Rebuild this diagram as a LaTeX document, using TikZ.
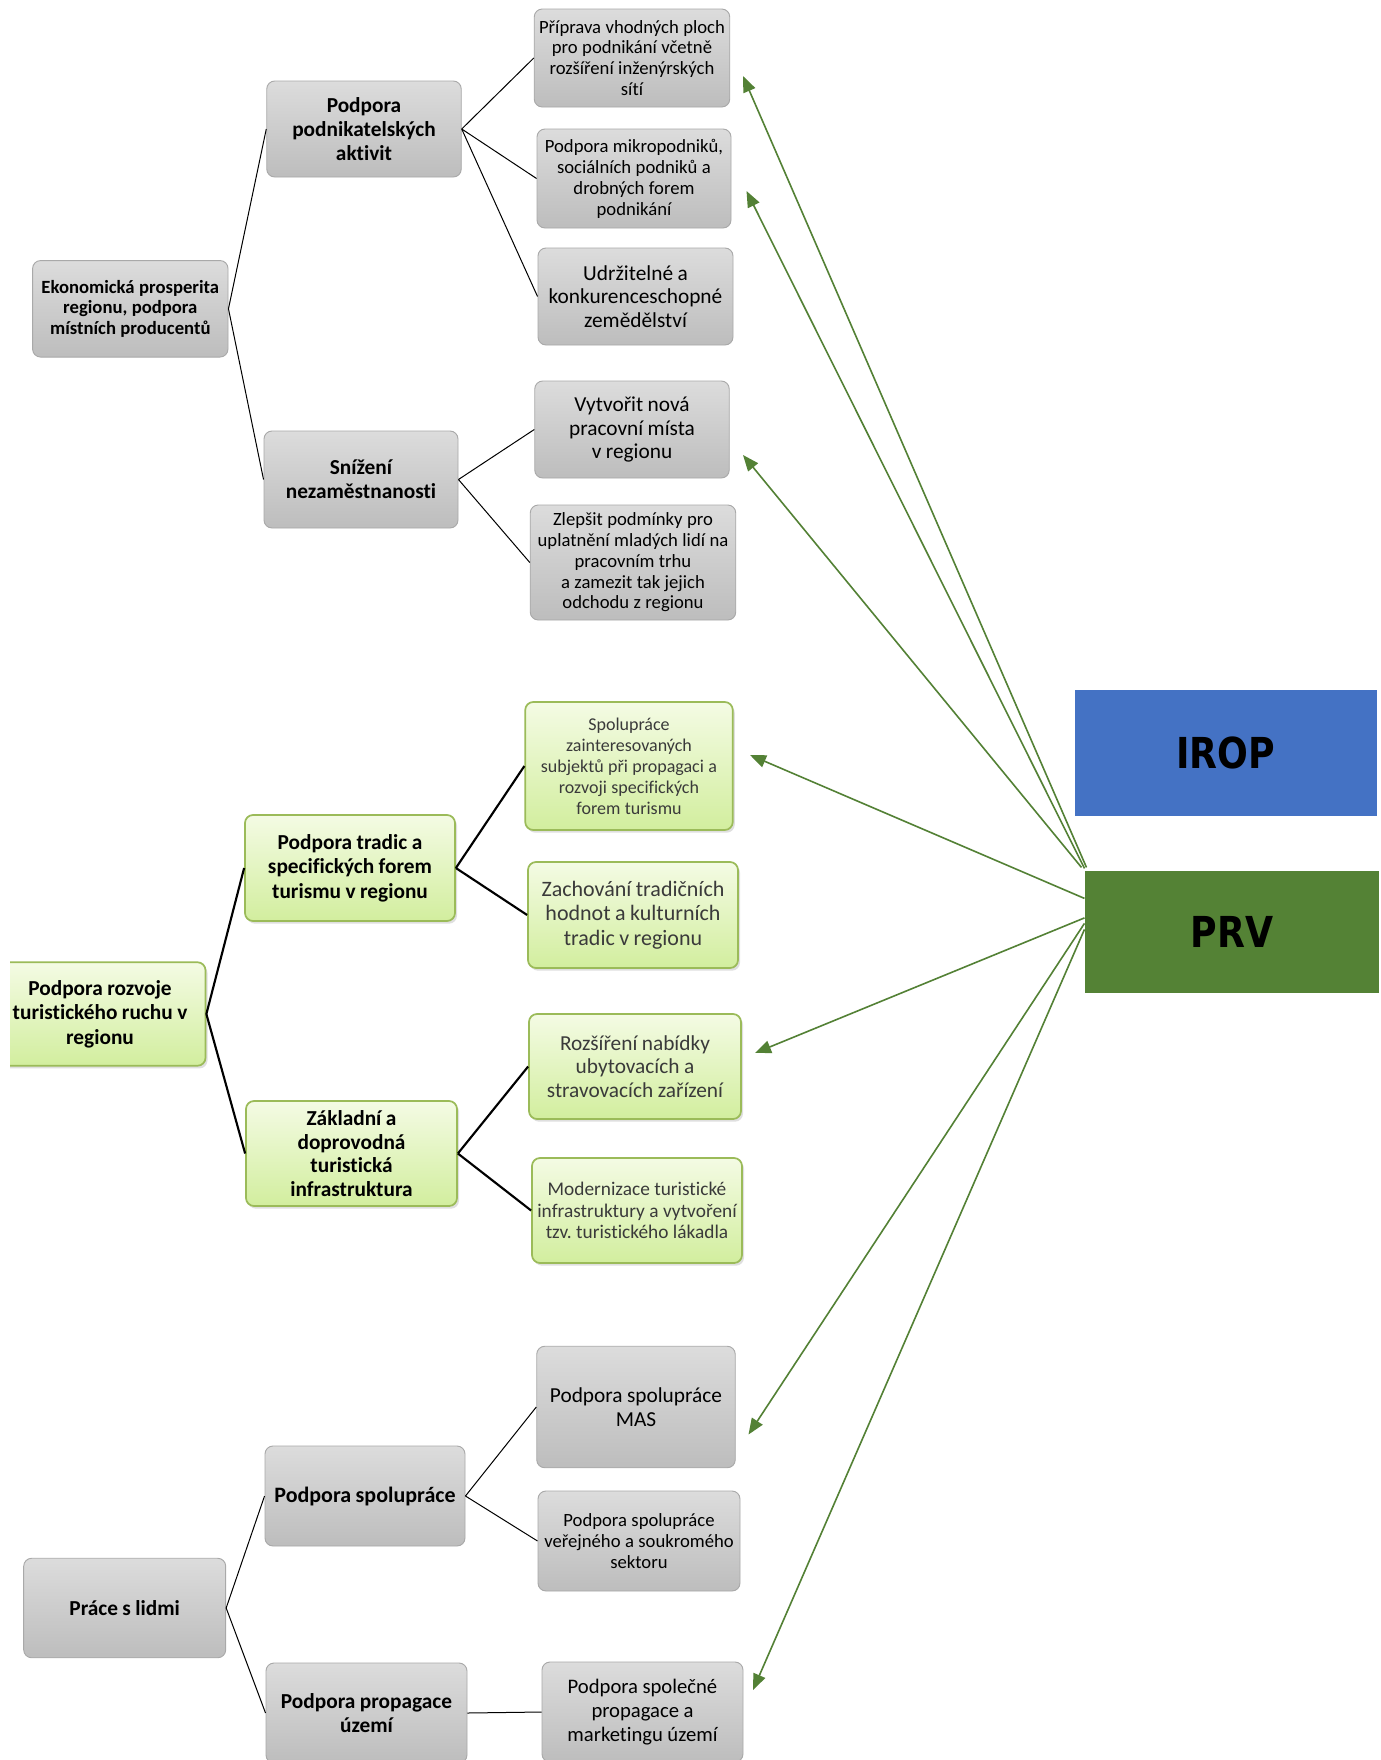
\documentclass[tikz,border=0pt]{standalone}
\usepackage{fontspec}
\setmainfont{Carlito}[Ligatures={NoCommon,NoRare,NoContextual}]
\newfontfamily\headfont[FakeStretch=0.85]{DejaVu Sans}
\usetikzlibrary{arrows.meta,calc,shadows}
\frenchspacing
\definecolor{grayTop}{HTML}{DCDCDC}
\definecolor{grayBot}{HTML}{BDBDBD}
\definecolor{grayEdge}{HTML}{A9A9A9}
\definecolor{greenTop}{HTML}{F4FBE4}
\definecolor{greenBot}{HTML}{D2EE9E}
\definecolor{greenEdge}{HTML}{9BBB59}
\definecolor{greenText}{HTML}{3A3A3A}
\definecolor{arrowGreen}{HTML}{538135}
\definecolor{iropBlue}{HTML}{4472C4}
\definecolor{prvGreen}{HTML}{548235}
\tikzset{
  graybox/.style={draw=grayEdge, line width=0.7pt, rounded corners=6pt, top color=grayTop, bottom color=grayBot, align=center, inner xsep=2pt, inner ysep=0pt, text=black},
  greenbox/.style={draw=greenEdge, line width=1.3pt, rounded corners=6pt, top color=greenTop, bottom color=greenBot, align=center, inner xsep=2pt, inner ysep=0pt, drop shadow={opacity=0.25, shadow xshift=1.5pt, shadow yshift=-2pt}},
  thinconn/.style={draw=black, line width=0.75pt},
  thickconn/.style={draw=black, line width=1.6pt},
  prvarrow/.style={draw=arrowGreen, line width=1.2pt, -{Triangle[length=12pt, width=9.5pt]}},
  bigbox/.style={rectangle, inner sep=0pt, text=black, font=\headfont\bfseries\fontsize{32}{35}\selectfont}
}
\newcommand\bx[7]{%
  \pgfmathsetmacro\bxw{#4*0.75}%
  \pgfmathsetmacro\bxh{#5*0.75}%
  \pgfmathsetmacro\bxt{#4*0.75-4}%
  \node[#6, minimum width=\bxw pt, minimum height=\bxh pt, text width=\bxt pt] (#1) at (#2,#3) {#7\par};}
\begin{document}
\begin{tikzpicture}[x=0.75pt,y=-0.75pt]
\clip (0,0) rectangle (1381,1760);
\useasboundingbox (0,0) rectangle (1381,1760);
\fill[white] (0,0) rectangle (1381,1760);

% ---------- group 1 ----------
\bx{E}{130.3}{308.8}{195.4}{96.5}{graybox}{\bfseries\fontsize{14}{15.6}\selectfont Ekonomická prosperita\\ regionu, podpora\\ místních producentů}
\bx{PP}{364}{129}{194.5}{96}{graybox}{\bfseries\fontsize{16}{17.7}\selectfont Podpora\\ podnikatelských\\ aktivit}
\bx{SN}{361}{479.5}{194}{97}{graybox}{\bfseries\fontsize{16}{17.7}\selectfont Snížení\\ nezaměstnanosti}
\bx{P1}{632}{58}{195.5}{98}{graybox}{\fontsize{14}{15.7}\selectfont Příprava vhodných ploch\\ pro podnikání včetně\\ rozšíření inženýrských\\ sítí}
\bx{P2}{634}{178.5}{194}{99}{graybox}{\fontsize{14}{15.7}\selectfont Podpora mikropodniků,\\ sociálních podniků a\\ drobných forem\\ podnikání}
\bx{P3}{635.5}{296.5}{195}{97}{graybox}{\fontsize{16}{17.7}\selectfont Udržitelné a\\ konkurenceschopné\\ zemědělství}
\bx{S1}{632}{429.5}{194.5}{97}{graybox}{\fontsize{16}{17.7}\selectfont Vytvořit nová\\ pracovní místa\\ v regionu}
\bx{S2}{633}{562.5}{205.5}{115}{graybox}{\fontsize{14}{15.6}\selectfont Zlepšit podmínky pro\\ uplatnění mladých lidí na\\ pracovním trhu\\ a zamezit tak jejich\\ odchodu z regionu}

\draw[thinconn] (E.east) -- (PP.west);
\draw[thinconn] (E.east) -- (SN.west);
\draw[thinconn] (PP.east) -- (P1.west);
\draw[thinconn] (PP.east) -- (P2.west);
\draw[thinconn] (PP.east) -- (P3.west);
\draw[thinconn] (SN.east) -- (S1.west);
\draw[thinconn] (SN.east) -- (S2.west);

% ---------- group 2 ----------
\begin{scope}
\clip (10,900) rectangle (260,1120);
\bx{T}{100}{1014}{211}{103.5}{greenbox}{\bfseries\fontsize{16}{18.3}\selectfont Podpora rozvoje\\ turistického ruchu v\\ regionu}
\end{scope}
\bx{T1}{350}{868}{210}{106}{greenbox}{\bfseries\fontsize{16}{18.5}\selectfont Podpora tradic a\\ specifických forem\\ turismu v regionu}
\bx{T2}{351.5}{1153.5}{211}{105}{greenbox}{\bfseries\fontsize{16}{17.7}\selectfont Základní a\\ doprovodná\\ turistická\\ infrastruktura}
\bx{T11}{629}{766}{207.5}{128}{greenbox}{\color{greenText}\fontsize{13.5}{15.75}\selectfont Spolupráce\\ zainteresovaných\\ subjektů při propagaci a\\ rozvoji specifických\\ forem turismu}
\bx{T12}{633}{915}{210}{106}{greenbox}{\color{greenText}\fontsize{16.5}{18.5}\selectfont Zachování tradičních\\ hodnot a kulturních\\ tradic v regionu}
\bx{T21}{635}{1066.5}{212}{105}{greenbox}{\color{greenText}\fontsize{16}{17.7}\selectfont Rozšíření nabídky\\ ubytovacích a\\ stravovacích zařízení}
\bx{T22}{637}{1210.5}{210}{105}{greenbox}{\color{greenText}\fontsize{14.5}{16}\selectfont Modernizace turistické\\ infrastruktury a vytvoření\\ tzv. turistického lákadla}

\draw[thickconn] (T.east) -- (T1.west);
\draw[thickconn] (T.east) -- (T2.west);
\draw[thickconn] (T1.east) -- (T11.west);
\draw[thickconn] (T1.east) -- (T12.west);
\draw[thickconn] (T2.east) -- (T21.west);
\draw[thickconn] (T2.east) -- (T22.west);

% ---------- group 3 ----------
\bx{L}{124.7}{1608}{202}{99.5}{graybox}{\bfseries\fontsize{16}{17.7}\selectfont Práce s lidmi}
\bx{L1}{365}{1496}{200}{100}{graybox}{\bfseries\fontsize{16.5}{17.7}\selectfont Podpora spolupráce}
\bx{L2}{366.5}{1713}{201}{100}{graybox}{\bfseries\fontsize{16}{18.5}\selectfont Podpora propagace\\ území}
\bx{L11}{636}{1407}{198.5}{121.5}{graybox}{\fontsize{16}{17.7}\selectfont Podpora spolupráce\\ MAS}
\bx{L12}{639}{1541}{202}{100}{graybox}{\fontsize{14}{15.6}\selectfont Podpora spolupráce\\ veřejného a soukromého\\ sektoru}
\bx{L21}{642.5}{1712}{201}{100}{graybox}{\fontsize{15.5}{17.7}\selectfont Podpora společné\\ propagace a\\ marketingu území}

\draw[thinconn] (L.east) -- (L1.west);
\draw[thinconn] (L.east) -- (L2.west);
\draw[thinconn] (L1.east) -- (L11.west);
\draw[thinconn] (L1.east) -- (L12.west);
\draw[thinconn] (L2.east) -- (L21.west);

% ---------- IROP / PRV ----------
\node[bigbox, fill=iropBlue, minimum width=226.5pt, minimum height=94.1pt] (IROP) at (1225.5,753) {IROP};
\node[bigbox, fill=prvGreen, minimum width=220.9pt, minimum height=92pt] (PRV) at (1232,932) {PRV};

\coordinate (tip1) at (743,76);
\coordinate (tip2) at (746.5,191);
\coordinate (tip3) at (743,455);
\coordinate (tip4) at (750,755);
\coordinate (tip5) at (755,1053);
\coordinate (tip6) at (748.5,1434.5);
\coordinate (tip7) at (753,1690);

\draw[prvarrow] ($(PRV.north west)+(2,-3)$) -- (tip1);
\draw[prvarrow] ($(PRV.north west)+(0,-2)$) -- (tip2);
\draw[prvarrow] ($(PRV.north west)+(-3,-3)$) -- (tip3);
\draw[prvarrow] ($(PRV.north west)+(0,28)$) -- (tip4);
\draw[prvarrow] ($(PRV.north west)+(0,47.5)$) -- (tip5);
\draw[prvarrow] ($(PRV.north west)+(0,53)$) -- (tip6);
\draw[prvarrow] ($(PRV.north west)+(0,59)$) -- (tip7);
\end{tikzpicture}
\end{document}
